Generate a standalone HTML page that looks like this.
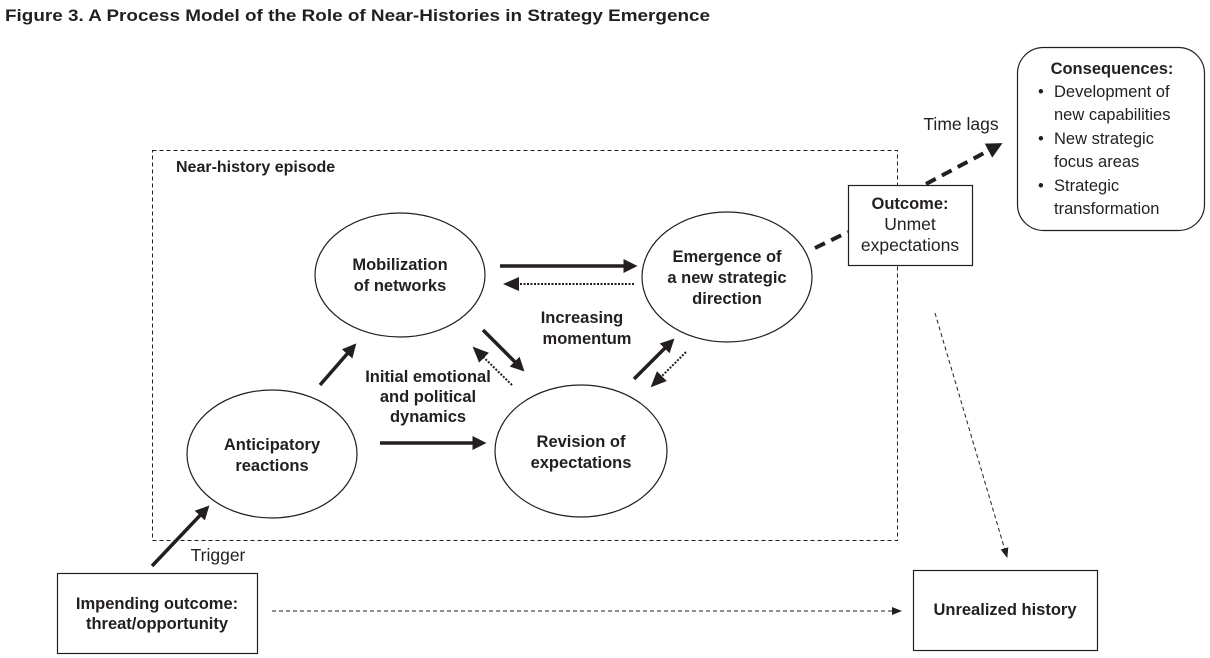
<!DOCTYPE html><html><head><style>body{margin:0;background:#fff}svg{display:block}text{font-family:"Liberation Sans",Arial,sans-serif;fill:#231f20}</style></head><body>
<svg width="1210" height="658" viewBox="0 0 1210 658" xmlns="http://www.w3.org/2000/svg">
<defs>
<marker id="a" markerWidth="4" markerHeight="4" refX="3" refY="2" orient="auto" markerUnits="strokeWidth"><path d="M0,0L4,2L0,4z" fill="#231f20"/></marker>
<marker id="b" markerWidth="8" markerHeight="8" refX="7" refY="4" orient="auto" markerUnits="strokeWidth"><path d="M0,0.5L8,4L0,7.5z" fill="#231f20"/></marker>
<marker id="c" markerWidth="10" markerHeight="10" refX="9" refY="5" orient="auto" markerUnits="strokeWidth"><path d="M0,1L10,5L0,9z" fill="#231f20"/></marker>
</defs>
<text x="5" y="21" font-size="17" font-weight="bold" textLength="705" lengthAdjust="spacingAndGlyphs">Figure 3.  A Process Model of the Role of Near-Histories in Strategy Emergence</text>
<rect x="152.5" y="150.5" width="745" height="390" fill="none" stroke="#231f20" stroke-dasharray="4,3"/>
<text x="176" y="172" font-size="16" font-weight="bold">Near-history episode</text>
<g fill="#fff" stroke="#231f20" stroke-width="1.2">
<ellipse cx="400" cy="275" rx="85" ry="62"/>
<ellipse cx="727" cy="277" rx="85" ry="65"/>
<ellipse cx="272" cy="454" rx="85" ry="64"/>
<ellipse cx="581" cy="451" rx="86" ry="66"/>
<rect x="848.5" y="185.5" width="124" height="80"/>
<rect x="1017.5" y="47.5" width="187" height="183" rx="26"/>
<rect x="57.5" y="573.5" width="200" height="80"/>
<rect x="913.5" y="570.5" width="184" height="80"/>
</g>
<g font-size="16.5" font-weight="bold" text-anchor="middle">
<text x="400" y="270">Mobilization</text><text x="400" y="291">of networks</text>
<text x="727" y="262">Emergence of</text><text x="727" y="283">a new strategic</text><text x="727" y="304">direction</text>
<text x="272" y="450">Anticipatory</text><text x="272" y="471">reactions</text>
<text x="581" y="447">Revision of</text><text x="581" y="468">expectations</text>
<text x="582" y="323">Increasing</text><text x="587" y="344">momentum</text>
<text x="428" y="382">Initial emotional</text><text x="428" y="402">and political</text><text x="428" y="422">dynamics</text>
<text x="910" y="209">Outcome:</text>
<text x="157" y="609">Impending outcome:</text><text x="157" y="629">threat/opportunity</text>
<text x="1005" y="615">Unrealized history</text>
<text x="1112" y="74">Consequences:</text>
</g>
<g font-size="17.5" text-anchor="middle">
<text x="910" y="230">Unmet</text><text x="910" y="251">expectations</text>
<text x="961" y="130">Time lags</text>
<text x="218" y="561">Trigger</text>
</g>
<g font-size="16.5">
<text x="1038" y="97">•</text><text x="1054" y="97">Development of</text><text x="1054" y="120">new capabilities</text>
<text x="1038" y="144">•</text><text x="1054" y="144">New strategic</text><text x="1054" y="167">focus areas</text>
<text x="1038" y="191">•</text><text x="1054" y="191">Strategic</text><text x="1054" y="214">transformation</text>
</g>
<g stroke="#231f20" fill="none">
<line x1="152" y1="566" x2="207" y2="508" stroke-width="3.5" marker-end="url(#a)"/>
<line x1="320" y1="385" x2="354" y2="346" stroke-width="3.5" marker-end="url(#a)"/>
<line x1="380" y1="443" x2="483" y2="443" stroke-width="3.5" marker-end="url(#a)"/>
<line x1="500" y1="266" x2="634" y2="266" stroke-width="3.5" marker-end="url(#a)"/>
<line x1="634" y1="284" x2="505" y2="284" stroke-width="2" stroke-dasharray="2,1.5" marker-end="url(#b)"/>
<line x1="483" y1="330" x2="522" y2="369" stroke-width="3.5" marker-end="url(#a)"/>
<line x1="512" y1="385" x2="474" y2="348" stroke-width="2" stroke-dasharray="2,1.5" marker-end="url(#b)"/>
<line x1="634" y1="379" x2="672" y2="341" stroke-width="3.5" marker-end="url(#a)"/>
<line x1="686" y1="352" x2="652" y2="386" stroke-width="2" stroke-dasharray="2,1.5" marker-end="url(#b)"/>
<line x1="815" y1="248" x2="848" y2="232" stroke-width="4" stroke-dasharray="11,7"/>
<line x1="926" y1="184" x2="999" y2="145" stroke-width="4" stroke-dasharray="11,7" marker-end="url(#a)"/>
<line x1="935" y1="313" x2="1007" y2="557" stroke-width="1" stroke-dasharray="4,3" marker-end="url(#c)"/>
<line x1="272" y1="611" x2="901" y2="611" stroke-width="1" stroke-dasharray="4,3" marker-end="url(#c)"/>
</g>
</svg></body></html>
